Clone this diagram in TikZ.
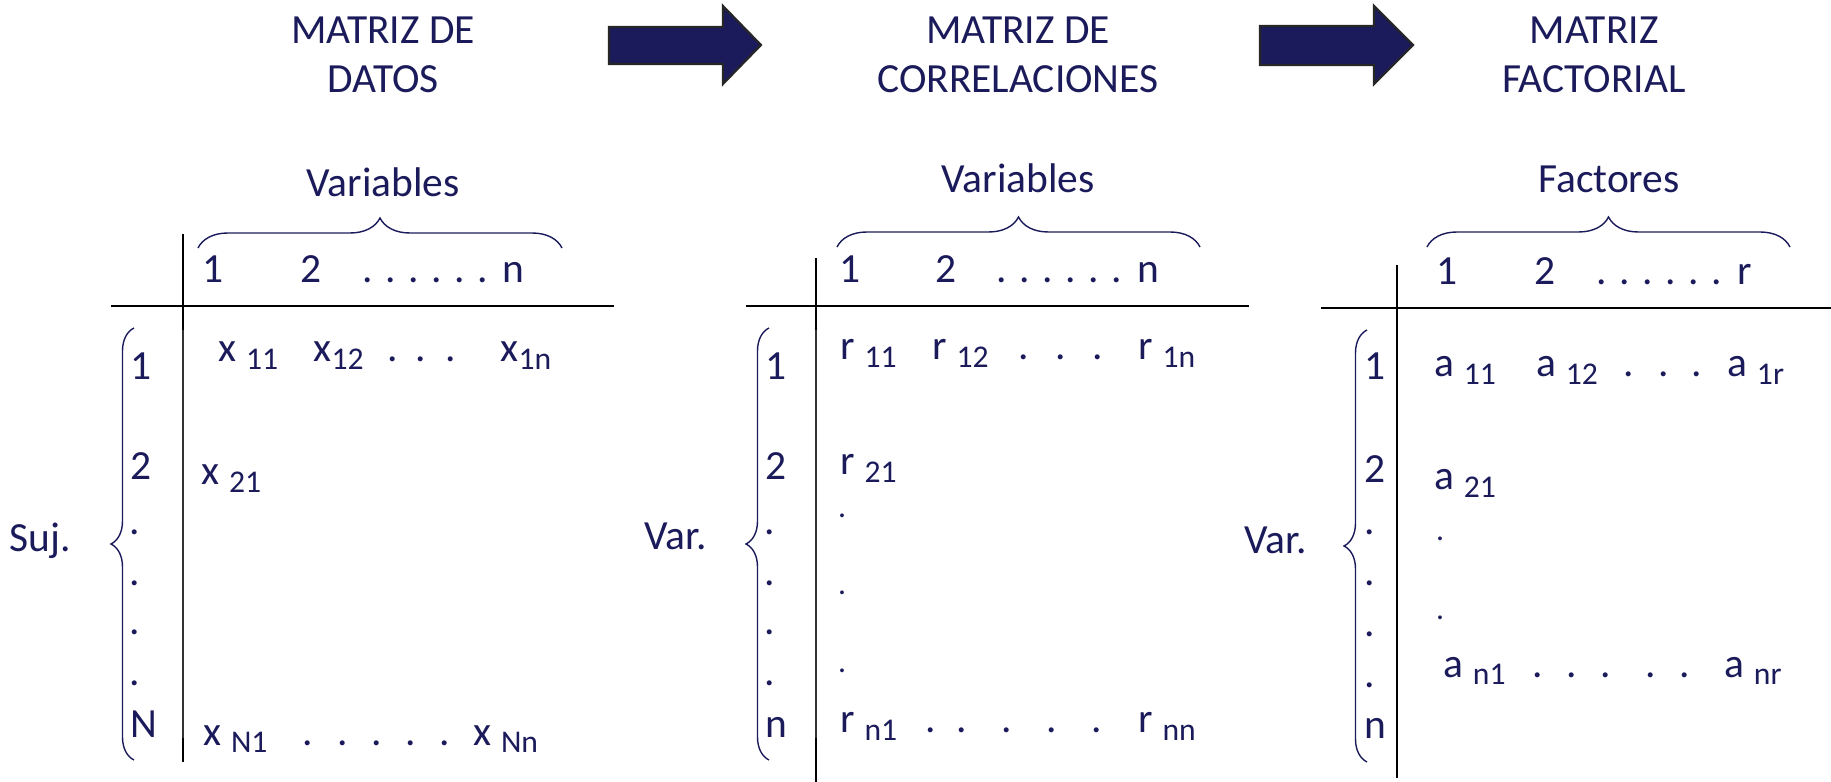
\documentclass[tikz,border=0pt]{standalone}
\usepackage{fontspec}
\setmainfont{Carlito}
\usetikzlibrary{decorations.pathreplacing}
\definecolor{mNavy}{HTML}{1B1B5B}
\newcommand{\subfont}{\fontsize{9}{9}\selectfont}
\newcommand{\sbs}[1]{\raisebox{-2pt}{\subfont #1}}

\begin{document}
\begin{tikzpicture}[x=0.1mm, y=0.1mm,
    every node/.style={text=mNavy, font=\fontsize{11.8}{14.2}\selectfont, inner sep=0pt},
    ttl/.style={anchor=base, align=center},
    cell/.style={anchor=base west},
    pt/.style={anchor=base},
    smallpt/.style={anchor=base, font=\subfont},
    rule/.style={black, line width=0.5pt},
    thinrule/.style={black!80, line width=0.3pt},
    topbrace/.style={mNavy, line width=0.4pt, decorate, decoration={brace, amplitude=3mm}},
    sidebrace/.style={mNavy, line width=0.4pt, decorate, decoration={brace, amplitude=2.3mm}},
    blockarrow/.style={fill=mNavy, draw=black!85, line width=0.6pt}]
  \useasboundingbox (0,0) rectangle (1831,-782);

  % arrows between the three matrices
  \draw[blockarrow] (609,-27) -- (723,-27) -- (723,-6) -- (761,-45) -- (723,-84) -- (723,-64) -- (609,-64) -- cycle;
  \draw[blockarrow] (1260,-26) -- (1374,-26) -- (1374,-6) -- (1413,-45) -- (1374,-84) -- (1374,-65) -- (1260,-65) -- cycle;

  % --- matriz de datos
  \node[ttl] (t1) at (383,-93) {MATRIZ DE\\DATOS};
  \node[pt] (v1) at (383,-197) {Variables};
  \draw[topbrace] (198,-248) -- (562,-248);
  \draw[rule] (183,-234) -- (183,-330);
  \draw[thinrule] (183,-330) -- (183,-738);
  \draw[rule] (183,-738) -- (183,-762);
  \draw[rule] (111,-306) -- (614,-306);
  \node[cell] (h1a) at (202,-283) {1};
  \node[cell] (h1b) at (300,-283) {2};
  \node[cell] (h1c) at (362,-283) {. . . . . .};
  \node[cell] (h1d) at (502,-283) {n};
  \node[cell] (s1) at (9,-552) {Suj.};
  \draw[sidebrace] (134,-760) -- (134,-328);
  \node[cell] (r1a) at (130,-380) {1};
  \node[cell] (r1b) at (130,-480) {2};
  \foreach \y [count=\i] in {534,585,635,686} \node[pt] (d1\i) at (135,-\y) {.};
  \node[cell] (r1c) at (130,-737) {N};
  \node[cell] (x11) at (218,-362) {x \sbs{11}};
  \node[cell] (x12) at (313,-362) {x\sbs{12}};
  \foreach \x [count=\i] in {393,421,451} \node[pt] (xd\i) at (\x,-362) {.};
  \node[cell] (x1n) at (500,-362) {x\sbs{1n}};
  \node[cell] (x21) at (201,-485) {x \sbs{21}};
  \node[cell] (xN1) at (203,-745) {x \sbs{N1}};
  \foreach \x [count=\i] in {308,343,377,411,445} \node[pt] (xe\i) at (\x,-745) {.};
  \node[cell] (xNn) at (473,-745) {x \sbs{Nn}};

  % --- matriz de correlaciones
  \node[ttl] (t2) at (1018,-93) {MATRIZ DE\\CORRELACIONES};
  \node[pt] (v2) at (1018,-193) {Variables};
  \draw[topbrace] (837,-247) -- (1200,-247);
  \draw[rule] (816,-258) -- (816,-330);
  \draw[thinrule] (816,-330) -- (816,-738);
  \draw[rule] (816,-738) -- (816,-782);
  \draw[rule] (746,-306) -- (1249,-306);
  \node[cell] (h2a) at (839,-283) {1};
  \node[cell] (h2b) at (935,-283) {2};
  \node[cell] (h2c) at (996,-283) {. . . . . .};
  \node[cell] (h2d) at (1137,-283) {n};
  \node[cell] (s2) at (644,-550) {Var.};
  \draw[sidebrace] (769,-760) -- (769,-328);
  \node[cell] (r2a) at (765,-380) {1};
  \node[cell] (r2b) at (765,-480) {2};
  \foreach \y [count=\i] in {534,585,635,686} \node[pt] (d2\i) at (770,-\y) {.};
  \node[cell] (r2c) at (765,-737) {n};
  \node[cell] (c11) at (840,-360) {r \sbs{11}};
  \node[cell] (c12) at (932,-360) {r \sbs{12}};
  \foreach \x [count=\i] in {1024,1061,1098} \node[pt] (cd\i) at (\x,-360) {.};
  \node[cell] (c1n) at (1138,-360) {r \sbs{1n}};
  \node[cell] (c21) at (840,-475) {r \sbs{21}};
  \foreach \y [count=\i] in {517,595,672} \node[smallpt] (ce\i) at (842,-\y) {.};
  \node[cell] (cn1) at (840,-733) {r \sbs{n1}};
  \foreach \x [count=\i] in {931,962,1007,1052,1097} \node[pt] (cf\i) at (\x,-733) {.};
  \node[cell] (cnn) at (1138,-733) {r \sbs{nn}};

  % --- matriz factorial
  \node[ttl] (t3) at (1594,-93) {MATRIZ\\FACTORIAL};
  \node[pt] (v3) at (1609,-193) {Factores};
  \draw[topbrace] (1427,-247) -- (1790,-247);
  \draw[rule] (1397,-265) -- (1397,-778);
  \draw[rule] (1321,-308) -- (1831,-308);
  \node[cell] (h3a) at (1436,-285) {1};
  \node[cell] (h3b) at (1534,-285) {2};
  \node[cell] (h3c) at (1596,-285) {. . . . . .};
  \node[cell] (h3d) at (1737,-285) {r};
  \node[cell] (s3) at (1244,-553) {Var.};
  \draw[sidebrace] (1367,-762) -- (1367,-330);
  \node[cell] (r3a) at (1364,-380) {1};
  \node[cell] (r3b) at (1364,-483) {2};
  \foreach \y [count=\i] in {535,586,637,688} \node[pt] (d3\i) at (1370,-\y) {.};
  \node[cell] (r3c) at (1364,-738) {n};
  \node[cell] (a11) at (1434,-377) {a \sbs{11}};
  \node[cell] (a12) at (1536,-377) {a \sbs{12}};
  \foreach \x [count=\i] in {1629,1664,1697} \node[pt] (ad\i) at (\x,-377) {.};
  \node[cell] (a1r) at (1727,-377) {a \sbs{1r}};
  \node[cell] (a21) at (1434,-490) {a \sbs{21}};
  \foreach \y [count=\i] in {541,619} \node[smallpt] (ae\i) at (1440,-\y) {.};
  \node[cell] (an1) at (1443,-677) {a \sbs{n1}};
  \foreach \x [count=\i] in {1538,1572,1606,1651,1685} \node[pt] (af\i) at (\x,-677) {.};
  \node[cell] (anr) at (1724,-677) {a \sbs{nr}};
\end{tikzpicture}
\end{document}
